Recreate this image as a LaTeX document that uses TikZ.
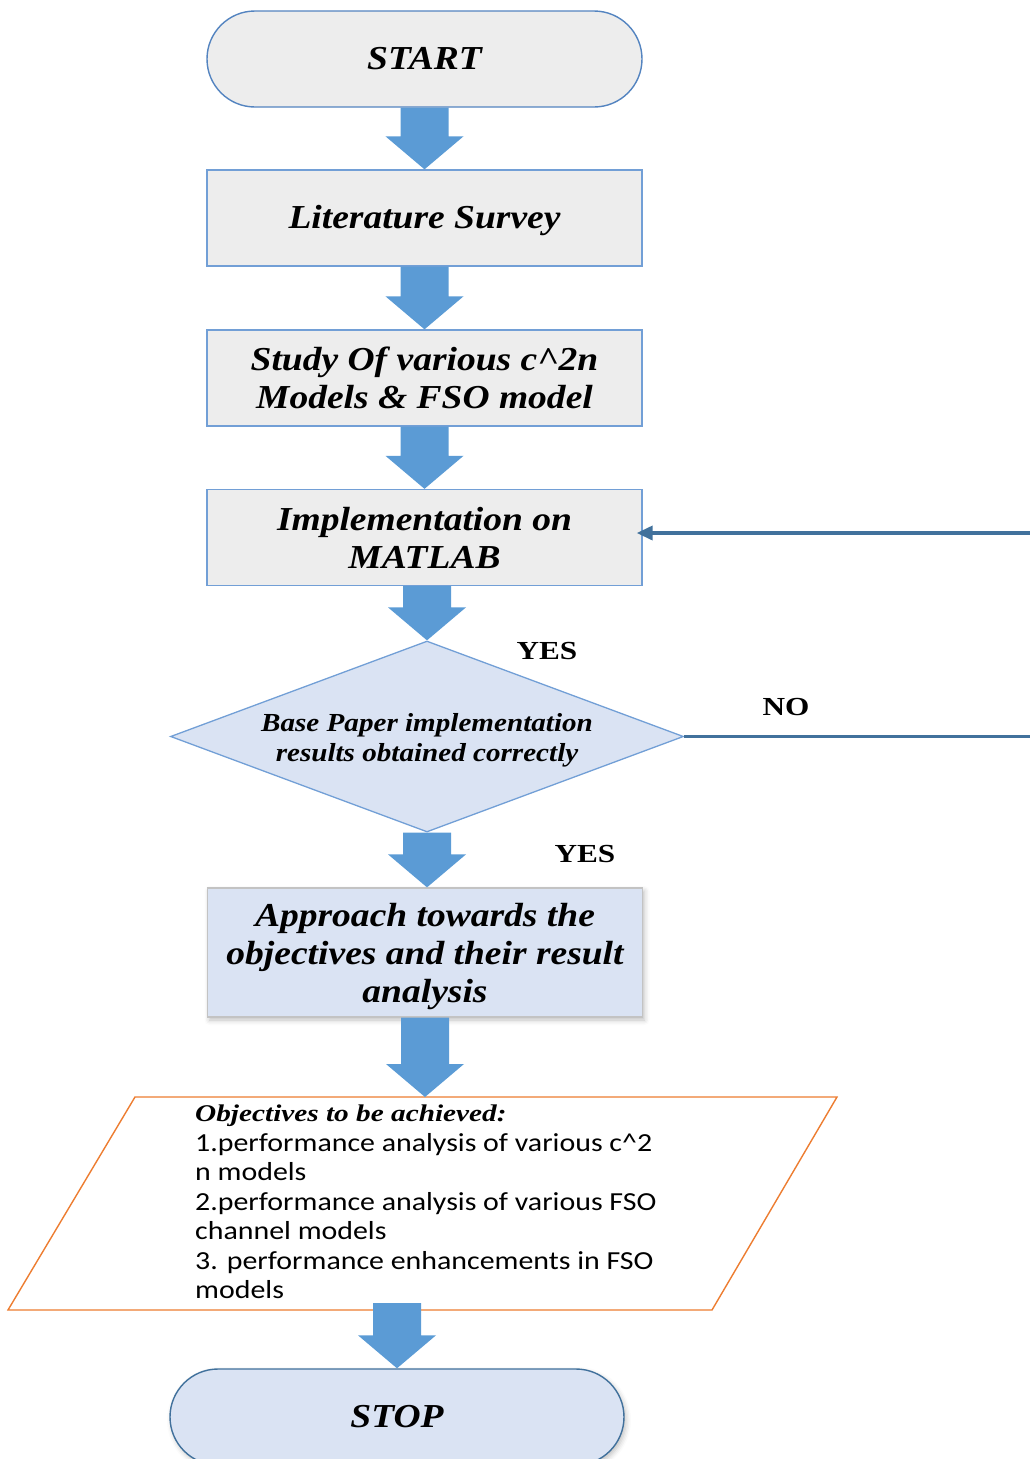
\documentclass[tikz,border=0pt]{standalone}
\usepackage{fontspec}
\usetikzlibrary{shapes.geometric,shapes.misc,arrows.meta,calc,shadows.blur}

% Fonts: wide bold italic serif for the steps, sans for the objective list
\newfontfamily\boxfont[FakeStretch=1.12]{Liberation Serif}
\newfontfamily\tagfont[FakeStretch=1.2]{Liberation Serif}
\newfontfamily\headfont[FakeStretch=1.22]{Liberation Serif}
\newfontfamily\listfont[FakeStretch=1.15]{Carlito}

\definecolor{paleGray}{RGB}{237,237,237}
\definecolor{paleBlue}{RGB}{218,227,243}
\definecolor{edgeBlue}{RGB}{114,159,214}
\definecolor{startEdge}{RGB}{84,132,192}
\definecolor{darkBlue}{RGB}{65,113,156}
\definecolor{flowBlue}{RGB}{91,155,213}
\definecolor{orangeEdge}{RGB}{237,125,49}
\definecolor{shadeGray}{RGB}{195,195,195}

% Thick block arrow: from #1 down to #2, centred on the x of #3
\newcommand\blockarrow[3]{%
  \fill[flowBlue] let \p1=(#1), \p2=(#2), \p3=(#3) in
    (\x3-24pt,\y1) -- (\x3+24pt,\y1) -- (\x3+24pt,\y2+33pt) --
    (\x3+39pt,\y2+33pt) -- (\x3,\y2) -- (\x3-39pt,\y2+33pt) --
    (\x3-24pt,\y2+33pt) -- cycle;}

\begin{document}
\begin{tikzpicture}[x=1pt,y=-1pt,
  steptext/.style={font={\boxfont\bfseries\itshape\fontsize{33.5}{38}\selectfont}},
  terminal/.style={rounded rectangle, steptext, minimum width=435pt,
    minimum height=96pt, inner sep=0pt, line width=1.4pt},
  process/.style={rectangle, steptext, align=center, minimum width=435pt,
    minimum height=96pt, inner sep=0pt, fill=paleGray, draw=edgeBlue,
    line width=1.3pt},
  decision/.style={diamond, aspect=2.69, minimum width=513pt,
    minimum height=191pt, inner sep=0pt, fill=paleBlue,
    draw=edgeBlue, line width=1.3pt},
  decisiontext/.style={align=center, inner sep=0pt,
    font={\boxfont\bfseries\itshape\fontsize{26}{30}\selectfont}},
  lowtext/.style={steptext, align=center, inner sep=0pt},
  tag/.style={font={\tagfont\bfseries\fontsize{26}{30}\selectfont}, inner sep=0pt},
  softshadow/.style={blur shadow={shadow xshift=2pt, shadow yshift=-3pt,
    shadow blur radius=5pt, shadow opacity=25}},
  feedback/.style={darkBlue, line width=3.5pt,
    -{Triangle[length=16pt,width=14pt]}, shorten >=-6pt}
]
\useasboundingbox (0,0) rectangle (1030,1459);
\clip (0,0) rectangle (1030,1459);

% Steps
\node[terminal, fill=paleGray, draw=startEdge] (start) at (424.5,59) {START};
\node[process, text height=29pt, text depth=7.3pt] (lit) at (424.5,218) {Literature Survey};
\node[process] (study) at (424.5,378) {Study Of various c\textasciicircum2n\\Models \& FSO model};
\node[process] (impl) at (424.5,537.5) {Implementation on\\MATLAB};
\node[decision, label={[name=dectext, decisiontext, yshift=-4pt]center:Base Paper implementation\\results obtained correctly}]
  (dec) at (427,736.5) {};
\node[process, fill=paleBlue, draw=shadeGray, minimum height=129pt, softshadow,
  label={[name=apprtext, lowtext, yshift=-4pt]center:Approach towards the\\objectives and their result\\analysis}]
  (appr) at (425,952.5) {};

% Objectives parallelogram
\coordinate (pa) at (135,1097);
\coordinate (pb) at (837,1097);
\coordinate (pc) at (712,1310);
\coordinate (pd) at (8,1310);
\draw[orangeEdge, line width=1.4pt, fill=white] (pa) -- (pb) -- (pc) -- (pd) -- cycle;
\coordinate (paratop) at (425,1097);
\coordinate (parabot) at (397,1303);
\node[anchor=north west, inner sep=0pt, align=left,
  font={\listfont\fontsize{26}{29.5}\selectfont}] (objtext) at (195,1105)
  {{\headfont\bfseries\itshape\fontsize{24}{30.5}\selectfont Objectives to be achieved:}\\
   1.performance analysis of various c\textasciicircum2\\
   n models\\
   2.performance analysis of various FSO\\
   channel models\\
   3. performance enhancements in FSO\\
   models};

\node[terminal, fill=paleBlue, draw=darkBlue, minimum width=454pt, softshadow]
  (stop) at (397,1417) {STOP};

% Flow arrows
\blockarrow{start.south}{lit.north}{lit}
\blockarrow{lit.south}{study.north}{study}
\blockarrow{study.south}{impl.north}{impl}
\blockarrow{impl.south}{dec.north}{dec}
\blockarrow{dec.south}{appr.north}{dec}
\blockarrow{appr.south}{paratop}{appr}
\blockarrow{parabot}{stop.north}{stop}

% Loop back when the results are not obtained
\coordinate (rail) at (1045,0);
\coordinate (fbin) at ([yshift=4.5pt]impl.east);
\draw[feedback] (dec.east) -- (dec.east -| rail) -- (fbin -| rail) -- (fbin);

% Branch labels
\node[tag] (yes1) at (547,651) {YES};
\node[tag] (no) at (786,707) {NO};
\node[tag] (yes2) at (585,854) {YES};
\end{tikzpicture}
\end{document}
